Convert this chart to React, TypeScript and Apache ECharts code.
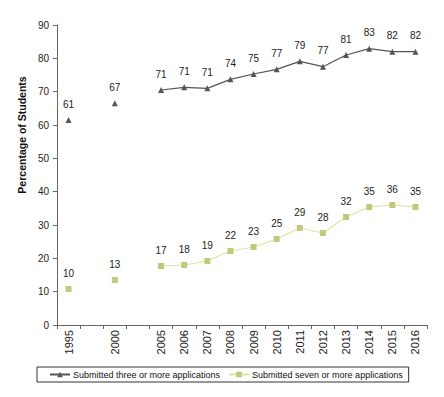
import React, { useEffect, useRef } from "react";
import * as echarts from "echarts";

const categories = ["1995", "", "2000", "", "2005", "2006", "2007", "2008", "2009", "2010", "2011", "2012", "2013", "2014", "2015", "2016"];
const threeOrMore = [61.5, null, 66.5, null, 70.5, 71.3, 71, 73.7, 75.3, 76.7, 79.1, 77.5, 81, 82.9, 82, 82];
const threeLabels = [61, null, 67, null, 71, 71, 71, 74, 75, 77, 79, 77, 81, 83, 82, 82];
const sevenOrMore = [10.8, null, 13.5, null, 17.7, 18, 19.2, 22.2, 23.4, 25.8, 29.1, 27.6, 32.4, 35.4, 36, 35.4];
const sevenLabels = [10, null, 13, null, 17, 18, 19, 22, 23, 25, 29, 28, 32, 35, 36, 35];
const yTicks = { min: 0, max: 90, interval: 10 };

export default function App() {
  const ref = useRef<HTMLDivElement>(null);
  useEffect(() => {
    const chart = echarts.init(ref.current!, null, { renderer: "svg" });
    const font = "Arial, 'Liberation Sans', sans-serif";
    chart.setOption({
      animation: false,
      backgroundColor: "#fff",
      textStyle: { fontFamily: font },
      grid: { left: 57, top: 25, right: 17, bottom: 72 },
      xAxis: {
        type: "category",
        data: categories,
        boundaryGap: true,
        axisLine: { lineStyle: { color: "#666", width: 1 } },
        axisTick: { show: true, inside: false, length: 4, alignWithLabel: false, interval: 0, lineStyle: { color: "#666" } },
        axisLabel: { rotate: 90, interval: 0, color: "#222", fontSize: 11, fontFamily: font, margin: 5 },
      },
      yAxis: {
        type: "value",
        min: yTicks.min,
        max: yTicks.max,
        interval: yTicks.interval,
        splitLine: { show: false },
        axisLine: { show: true, lineStyle: { color: "#666", width: 1 } },
        axisTick: { show: true, length: 4, lineStyle: { color: "#666" } },
        axisLabel: { color: "#222", fontSize: 10, fontFamily: font, margin: 8 },
      },
      legend: {
        left: 37,
        top: 367,
        borderColor: "#333",
        borderWidth: 1,
        padding: [3, 6, 3, 12],
        itemGap: 8,
        itemWidth: 20,
        itemHeight: 7,
        textStyle: { fontSize: 9, color: "#111", fontFamily: font, padding: [0, 0, 0, -2] },
        data: ["Submitted three or more applications", "Submitted seven or more applications"],
      },
      graphic: [
        {
          type: "text",
          x: 22,
          y: 135,
          rotation: Math.PI / 2,
          style: {
            text: "Percentage of Students",
            font: "bold 10.5px Arial, 'Liberation Sans', sans-serif",
            fill: "#111",
            align: "center",
            verticalAlign: "middle",
          },
        },
      ],
      series: [
        {
          name: "Submitted three or more applications",
          type: "line",
          data: threeOrMore,
          connectNulls: false,
          symbol: "triangle",
          symbolSize: 6,
          itemStyle: { color: "#555" },
          lineStyle: { color: "#555", width: 1.2 },
          label: {
            show: true,
            position: "top",
            distance: 8,
            fontSize: 10,
            color: "#222",
            formatter: (p: any) => (threeLabels[p.dataIndex] == null ? "" : String(threeLabels[p.dataIndex])),
          },
        },
        {
          name: "Submitted seven or more applications",
          type: "line",
          data: sevenOrMore,
          connectNulls: false,
          symbol: "rect",
          symbolSize: 6,
          itemStyle: { color: "#c3c97a" },
          lineStyle: { color: "#dfe2a3", width: 1.2 },
          label: {
            show: true,
            position: "top",
            distance: 8,
            fontSize: 10,
            color: "#222",
            formatter: (p: any) => (sevenLabels[p.dataIndex] == null ? "" : String(sevenLabels[p.dataIndex])),
          },
        },
      ],
    });
    return () => chart.dispose();
  }, []);
  return <div ref={ref} style={{ width: 444, height: 397, position: "absolute", left: 0, top: 0 }} />;
}
